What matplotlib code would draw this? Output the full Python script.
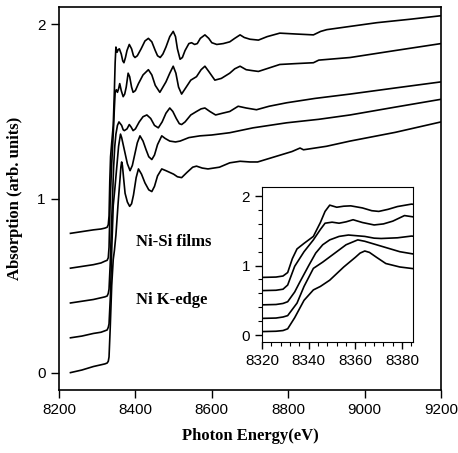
import matplotlib
matplotlib.use("Agg")
import matplotlib.pyplot as plt
from matplotlib.ticker import MultipleLocator

SERIF = "Liberation Serif"
SANS = "Liberation Sans"

# Ni K-edge absorption spectra, five films (offset vertically)
e_a = [8230, 8260, 8290, 8310, 8320, 8326, 8329, 8331, 8334, 8338, 8342, 8345, 8349, 8355, 8360,
       8362, 8364, 8366, 8369, 8373, 8379, 8385, 8390, 8395, 8402, 8408, 8416, 8425, 8435, 8443,
       8450, 8458, 8469, 8480, 8490, 8500, 8510, 8521, 8535, 8550, 8560, 8575, 8590, 8620, 8647,
       8674, 8700, 8720, 8750, 8780, 8810, 8831, 8840, 8900, 8962, 9080, 9200]
mu_a = [0.00, 0.015, 0.035, 0.045, 0.05, 0.055, 0.065, 0.09, 0.25, 0.50, 0.65, 0.70, 0.79, 0.98, 1.12,
        1.18, 1.21, 1.19, 1.12, 1.03, 0.98, 0.955, 0.97, 1.02, 1.12, 1.17, 1.14, 1.09, 1.05, 1.04,
        1.07, 1.13, 1.17, 1.16, 1.15, 1.14, 1.125, 1.12, 1.15, 1.18, 1.186, 1.175, 1.17, 1.18, 1.205,
        1.214, 1.21, 1.21, 1.23, 1.25, 1.27, 1.29, 1.28, 1.30, 1.33, 1.38, 1.44]

e_b = [8230, 8260, 8290, 8310, 8320, 8326, 8329, 8331, 8335, 8338, 8342, 8346, 8350, 8356, 8361,
       8364, 8367, 8373, 8379, 8386, 8392, 8398, 8405, 8412, 8420, 8428, 8435, 8443, 8450, 8458,
       8469, 8478, 8490, 8505, 8517, 8540, 8569, 8600, 8647, 8708, 8796, 8880, 8962, 9080, 9200]
mu_b = [0.20, 0.21, 0.225, 0.232, 0.24, 0.245, 0.26, 0.28, 0.46, 0.70, 0.96, 1.05, 1.15, 1.30, 1.37,
        1.35, 1.32, 1.26, 1.20, 1.16, 1.19, 1.25, 1.32, 1.36, 1.33, 1.28, 1.24, 1.224, 1.25, 1.31,
        1.36, 1.345, 1.33, 1.325, 1.33, 1.35, 1.36, 1.365, 1.378, 1.406, 1.435, 1.455, 1.48, 1.525, 1.57]

e_c = [8230, 8260, 8290, 8310, 8320, 8326, 8329, 8331, 8334, 8336, 8340, 8343, 8346, 8349, 8353,
       8357, 8364, 8368, 8371, 8378, 8384, 8389, 8394, 8400, 8410, 8420, 8430, 8440, 8450, 8460,
       8470, 8480, 8490, 8498, 8507, 8515, 8521, 8530, 8545, 8560, 8572, 8582, 8595, 8610, 8628,
       8647, 8669, 8690, 8717, 8750, 8796, 8870, 8962, 9080, 9200]
mu_c = [0.40, 0.41, 0.42, 0.43, 0.435, 0.44, 0.455, 0.48, 0.62, 0.75, 1.00, 1.18, 1.30, 1.37, 1.42,
        1.44, 1.42, 1.395, 1.39, 1.40, 1.425, 1.41, 1.39, 1.40, 1.44, 1.47, 1.48, 1.46, 1.42, 1.406,
        1.44, 1.49, 1.52, 1.50, 1.46, 1.43, 1.425, 1.44, 1.48, 1.50, 1.515, 1.52, 1.50, 1.48, 1.49,
        1.50, 1.53, 1.52, 1.51, 1.53, 1.55, 1.575, 1.60, 1.635, 1.67]

e_d = [8230, 8260, 8290, 8310, 8320, 8326, 8329, 8331, 8334, 8338, 8342, 8345, 8347, 8350, 8353,
       8356, 8359, 8363, 8368, 8372, 8376, 8381, 8385, 8390, 8394, 8400, 8408, 8420, 8434, 8443,
       8452, 8464, 8472, 8480, 8490, 8499, 8506, 8513, 8521, 8530, 8545, 8560, 8572, 8582, 8592,
       8608, 8625, 8647, 8660, 8674, 8690, 8705, 8722, 8750, 8778, 8820, 8866, 8880, 8962, 9080, 9200]
mu_d = [0.60, 0.61, 0.62, 0.63, 0.64, 0.645, 0.66, 0.72, 0.99, 1.20, 1.37, 1.52, 1.61, 1.625, 1.61,
        1.63, 1.66, 1.62, 1.585, 1.60, 1.64, 1.72, 1.70, 1.64, 1.61, 1.62, 1.66, 1.71, 1.74, 1.71,
        1.65, 1.61, 1.64, 1.67, 1.72, 1.76, 1.72, 1.64, 1.60, 1.63, 1.68, 1.70, 1.74, 1.76, 1.73,
        1.68, 1.69, 1.72, 1.745, 1.76, 1.74, 1.735, 1.73, 1.75, 1.77, 1.775, 1.78, 1.795, 1.81, 1.85, 1.89]

e_e = [8230, 8260, 8290, 8310, 8320, 8326, 8329, 8331, 8333, 8335, 8338, 8342, 8345, 8347, 8349,
       8352, 8355, 8358, 8363, 8367, 8370, 8374, 8378, 8384, 8390, 8395, 8399, 8405, 8415, 8425,
       8434, 8443, 8452, 8458, 8465, 8472, 8480, 8490, 8499, 8505, 8510, 8517, 8523, 8530, 8540,
       8547, 8555, 8562, 8570, 8582, 8592, 8600, 8613, 8630, 8647, 8660, 8674, 8685, 8700, 8722,
       8745, 8778, 8820, 8866, 8885, 8901, 8950, 9032, 9120, 9200]
mu_e = [0.80, 0.81, 0.82, 0.825, 0.83, 0.835, 0.85, 0.90, 1.10, 1.24, 1.32, 1.42, 1.62, 1.78, 1.87,
        1.84, 1.855, 1.86, 1.83, 1.79, 1.78, 1.81, 1.85, 1.885, 1.86, 1.82, 1.81, 1.82, 1.86, 1.905,
        1.92, 1.90, 1.85, 1.82, 1.81, 1.83, 1.87, 1.93, 1.96, 1.93, 1.86, 1.80, 1.81, 1.85, 1.89,
        1.895, 1.885, 1.89, 1.92, 1.94, 1.92, 1.895, 1.885, 1.89, 1.90, 1.92, 1.94, 1.925, 1.915, 1.91,
        1.93, 1.95, 1.945, 1.94, 1.96, 1.97, 1.985, 2.01, 2.03, 2.05]

spectra = [(e_a, mu_a), (e_b, mu_b), (e_c, mu_c), (e_d, mu_d), (e_e, mu_e)]

x_ticks = [8200, 8400, 8600, 8800, 9000, 9200]
y_ticks = [0, 1, 2]
inset_x_ticks = [8320, 8340, 8360, 8380]
inset_y_ticks = [0, 1, 2]

fig = plt.figure(figsize=(4.58, 4.53), dpi=100)
ax = fig.add_axes([0.1288, 0.139, 0.8341, 0.8455])

for e, mu in spectra:
    ax.plot(e, mu, color="black", lw=1.2)

ax.set_xlim(8200, 9200)
ax.set_ylim(-0.1, 2.1)
ax.set_xticks(x_ticks)
ax.set_yticks(y_ticks)
ax.tick_params(direction="out", length=6, width=1, labelsize=11)
for lab in ax.get_xticklabels() + ax.get_yticklabels():
    lab.set_family(SANS)
for s in ax.spines.values():
    s.set_linewidth(1.2)
ax.set_xlabel("Photon Energy(eV)", family=SERIF, weight="bold", fontsize=12, labelpad=8)
ax.set_ylabel("Absorption (arb. units)", family=SERIF, weight="bold", fontsize=12, labelpad=10)

ax.text(8402, 0.75, "Ni-Si films", family=SERIF, weight="bold", fontsize=12, va="center")
ax.text(8402, 0.42, "Ni K-edge", family=SERIF, weight="bold", fontsize=12, va="center")

# XANES region close-up
ins = fig.add_axes([0.572, 0.245, 0.329, 0.342])
for e, mu in spectra:
    ins.plot(e, mu, color="black", lw=1.2)
ins.set_xlim(8320, 8384.5)
ins.set_ylim(-0.1, 2.13)
ins.set_xticks(inset_x_ticks)
ins.set_yticks(inset_y_ticks)
ins.xaxis.set_minor_locator(MultipleLocator(4))
ins.yaxis.set_minor_locator(MultipleLocator(0.2))
ins.tick_params(which="major", direction="out", length=5, width=1, labelsize=11)
ins.tick_params(which="minor", direction="out", length=3, width=0.8)
for lab in ins.get_xticklabels() + ins.get_yticklabels():
    lab.set_family(SANS)

fig.savefig("out.png", dpi=100)
